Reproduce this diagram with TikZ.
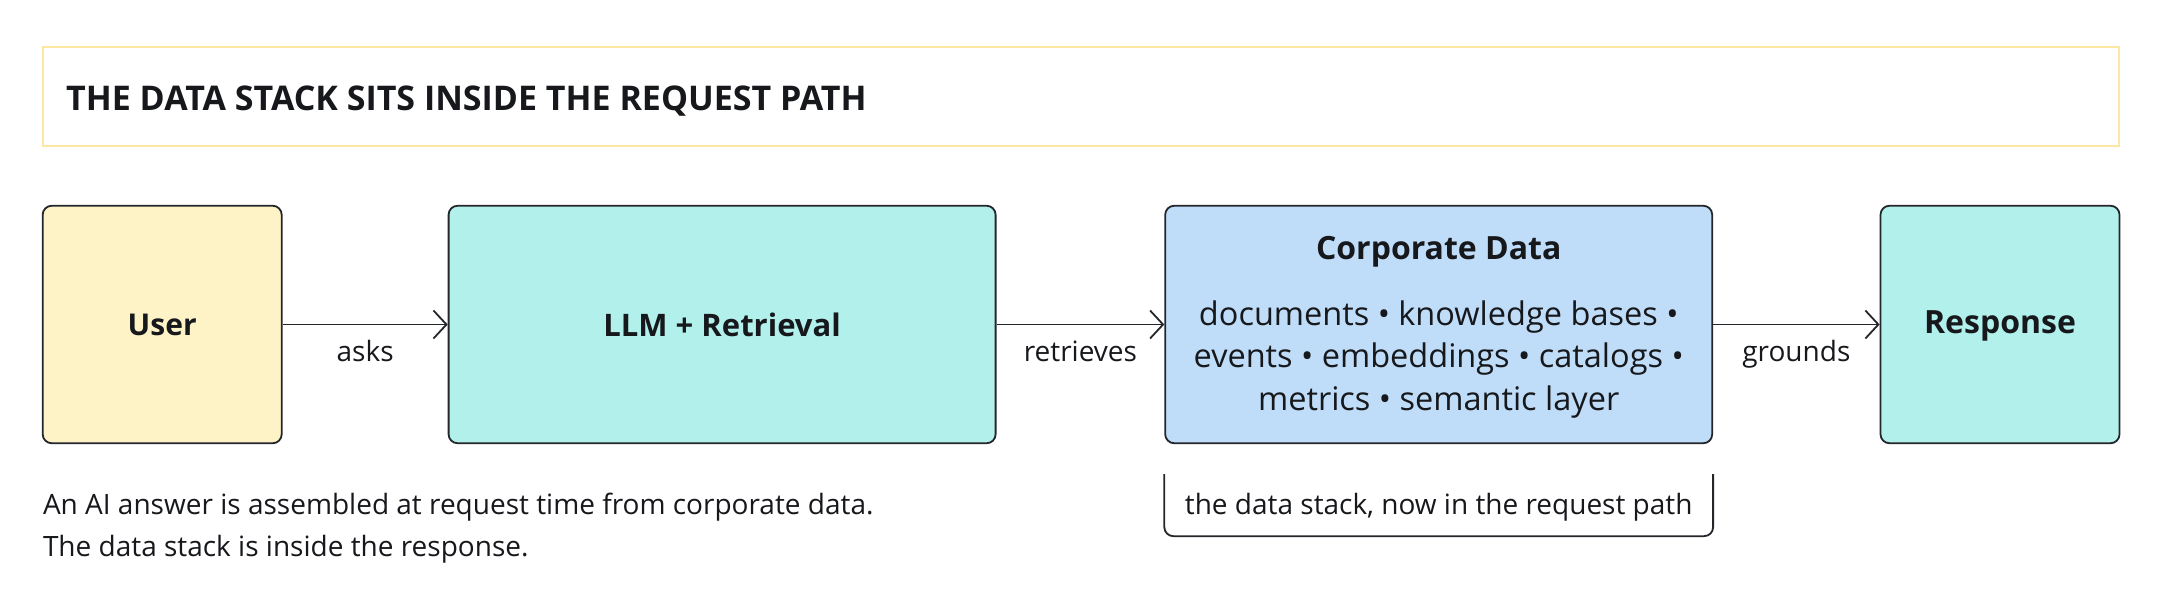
\documentclass[tikz,border=0pt]{standalone}
\usepackage{fontspec}
\setmainfont{Open Sans}
\usetikzlibrary{arrows.meta,calc}
\definecolor{ink}{HTML}{16181C}
\definecolor{edge}{HTML}{23262B}
\definecolor{titleedge}{HTML}{FBE7A1}
\definecolor{userfill}{HTML}{FEF3C7}
\definecolor{tealfill}{HTML}{B2F0EC}
\definecolor{bluefill}{HTML}{BFDDF8}
\tikzset{
  box/.style={draw=edge, line width=1.8pt, rounded corners=9pt, inner sep=0pt, text=ink, font=\fontsize{31}{36}\selectfont\bfseries},
  titlebox/.style={draw=titleedge, line width=1.8pt, inner sep=0pt},
  flow/.style={draw=edge, line width=1.8pt, -{Straight Barb[length=13pt,width=28pt,line width=1.8pt]}},
  lbl/.style={text=ink, font=\fontsize{28}{32}\selectfont, inner sep=0pt},
  body/.style={text=ink, font=\fontsize{28}{43}\selectfont, inner sep=0pt, align=left},
}
\begin{document}
\begin{tikzpicture}[x=1pt,y=-1pt]
\useasboundingbox (0,0) rectangle (2165,615);
\fill[white] (0,0) rectangle (2165,615);
% title
\node[titlebox, minimum width=2076pt, minimum height=99pt] (titlebox) at (1081,96.6) {};
\node[text=ink, font=\fontsize{34}{38}\selectfont\bfseries, inner sep=0pt, anchor=west] (title) at (66,100.8) {THE DATA STACK SITS INSIDE THE REQUEST PATH};
% boxes
\node[box, fill=userfill, minimum width=239pt, minimum height=237.5pt, font=\fontsize{30}{36}\selectfont\bfseries] (user) at (162.2,324.5) {User};
\node[box, fill=tealfill, minimum width=547pt, minimum height=237.5pt] (llm) at (722.1,324.5) {LLM + Retrieval};
\node[box, fill=bluefill, minimum width=547pt, minimum height=237.5pt] (corp) at (1438.7,324.5) {};
\node[box, fill=tealfill, minimum width=239pt, minimum height=237.5pt] (resp) at (2000,324.5) {};
\node[text=ink, font=\fontsize{32}{36}\selectfont\bfseries, inner sep=0pt] (resplabel) at (2000,325.5) {Response};
\node[text=ink, font=\fontsize{32}{36}\selectfont\bfseries, inner sep=0pt] (corptitle) at (1438.7,251.5) {Corporate Data};
\node[text=ink, font=\fontsize{32.5}{42.8}\selectfont, inner sep=0pt, align=center] (corplist) at (1438.7,359.5) {documents • knowledge bases •\\events • embeddings • catalogs •\\metrics • semantic layer};
% arrows
\draw[flow] (user.east) -- (llm.west);
\draw[flow] (llm.east) -- (corp.west);
\draw[flow] (corp.east) -- (resp.west);
\node[lbl, anchor=base] (asks) at ($(user.east)!0.5!(llm.west)+(0,36.5)$) {asks};
\node[lbl, anchor=base] (retr) at ($(llm.east)!0.5!(corp.west)+(0,36.5)$) {retrieves};
\node[lbl, anchor=base] (grnd) at ($(corp.east)!0.5!(resp.west)+(0,36.5)$) {grounds};
% bracket
\coordinate (bl) at ($(corp.south west)+(0,30)$);
\coordinate (br) at ($(corp.south east)+(0,30)$);
\draw[edge, line width=1.8pt, rounded corners=9pt] (bl) -- ++(0,62) -| (br);
\node[lbl] (brtext) at ($(bl)!0.5!(br)+(0,33)$) {the data stack, now in the request path};
% footer
\node[body, anchor=west] (foot1) at (42.8,506.7) {An AI answer is assembled at request time from corporate data.};
\node[body, anchor=west] (foot2) at (42.8,549.5) {The data stack is inside the response.};
\end{tikzpicture}
\end{document}
